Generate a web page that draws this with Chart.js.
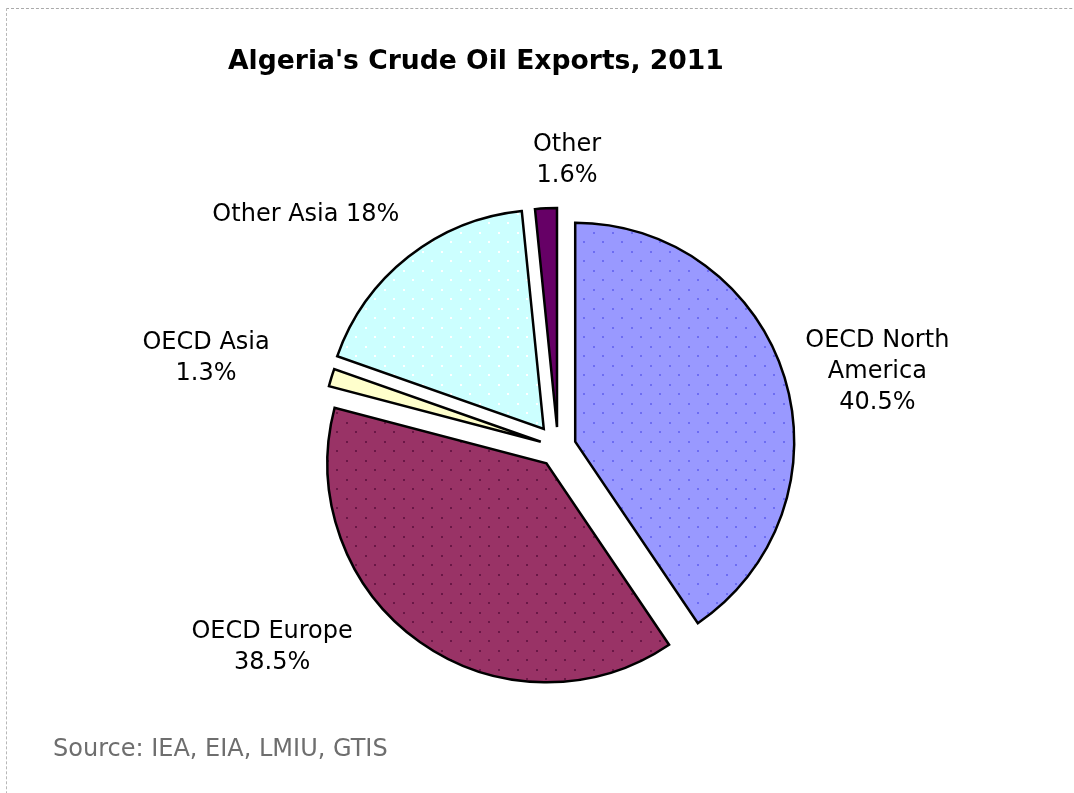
<!DOCTYPE html>
<html><head><meta charset="utf-8">
<script src="https://cdn.jsdelivr.net/npm/chart.js@4.4.0/dist/chart.umd.min.js"></script>
<style>
html,body{margin:0;padding:0;background:#fff;}
#wrap{position:relative;width:1074px;height:793px;overflow:hidden;}
#frame{position:absolute;left:6px;top:8px;width:1200px;height:900px;border-top:1px dashed #aaaaaa;border-left:1px dashed #b8b8b8;pointer-events:none;}
</style></head><body>
<div id="wrap"><canvas id="c" width="1074" height="793"></canvas><div id="frame"></div></div>
<script>
// ---- data ----
const titleText = "Algeria's Crude Oil Exports, 2011";
const sourceText = "Source: IEA, EIA, LMIU, GTIS";
const categories = ['OECD North America', 'OECD Europe', 'OECD Asia', 'Other Asia', 'Other'];
const shares = [40.5, 38.5, 1.3, 18, 1.6];
const labelNameLines = [['OECD North', 'America'], ['OECD Europe'], ['OECD Asia'], ['Other Asia'], ['Other']];
const percentInline = [false, false, false, true, false];

// ---- styles ----
const fillColors = ['#9999FF', '#993366', '#FFFFCC', '#CCFFFF', '#660066'];
const dotColors = ['#6d6df2', '#6a1746', null, '#ffffff', null];
const explode = [18, 20, 18, 23, 20];
const labelPolar = [[76.8, 328], [235, 349], [284.2, 363], [312.6, 342.5], [1.8, 287]];
const labelFont = '24px "DejaVu Sans"';
const lineH = 31;

const canvas = document.getElementById('c');
const baseCtx = canvas.getContext('2d');
function makePattern(base, dot) {
  const t = document.createElement('canvas');
  t.width = 19; t.height = 19;
  const g = t.getContext('2d');
  g.fillStyle = base; g.fillRect(0, 0, 19, 19);
  if (dot) {
    g.fillStyle = dot;
    g.fillRect(4, 4, 2, 2);
    g.fillRect(13, 13, 2, 2);
  }
  return baseCtx.createPattern(t, 'repeat');
}
const fills = fillColors.map((c, i) => makePattern(c, dotColors[i]));

const explodePlugin = {
  id: 'explodeSlices',
  afterDatasetUpdate(chart, args) {
    args.meta.data.forEach((arc, i) => {
      const mid = (arc.startAngle + arc.endAngle) / 2;
      arc.x += Math.cos(mid) * explode[i];
      arc.y += Math.sin(mid) * explode[i];
    });
  }
};

const textPlugin = {
  id: 'texts',
  afterDraw(chart) {
    const ctx = chart.ctx;
    const ca = chart.chartArea;
    const cx = (ca.left + ca.right) / 2, cy = (ca.top + ca.bottom) / 2;
    ctx.save();
    ctx.fillStyle = '#000';
    ctx.font = 'bold 26.6px "DejaVu Sans"';
    ctx.textAlign = 'left';
    ctx.textBaseline = 'alphabetic';
    ctx.fillText(titleText, 228, 69);

    ctx.fillStyle = '#6e6e6e';
    ctx.font = '24px "DejaVu Sans"';
    ctx.fillText(sourceText, 53, 756);

    ctx.fillStyle = '#000';
    ctx.font = labelFont;
    ctx.textAlign = 'center';
    ctx.textBaseline = 'middle';
    categories.forEach((cat, i) => {
      const lines = labelNameLines[i].slice();
      const pct = shares[i] + '%';
      if (percentInline[i]) lines[lines.length - 1] += ' ' + pct; else lines.push(pct);
      const a = labelPolar[i][0] * Math.PI / 180, d = labelPolar[i][1];
      const lx = cx + d * Math.sin(a), ly = cy - d * Math.cos(a);
      const y0 = ly - (lines.length - 1) * lineH / 2;
      lines.forEach((s, k) => ctx.fillText(s, lx, y0 + k * lineH));
    });
    ctx.restore();
  }
};

new Chart(canvas, {
  type: 'pie',
  data: {
    labels: categories,
    datasets: [{
      data: shares,
      backgroundColor: fills,
      borderColor: '#000',
      borderWidth: 2.5,
      borderJoinStyle: 'miter',
      clip: false
    }]
  },
  options: {
    responsive: false,
    animation: false,
    events: [],
    radius: 219,
    layout: { padding: { left: 42, right: 0, top: 101, bottom: 0 } },
    plugins: { legend: { display: false }, tooltip: { enabled: false }, title: { display: false } }
  },
  plugins: [explodePlugin, textPlugin]
});
</script>
</body></html>
